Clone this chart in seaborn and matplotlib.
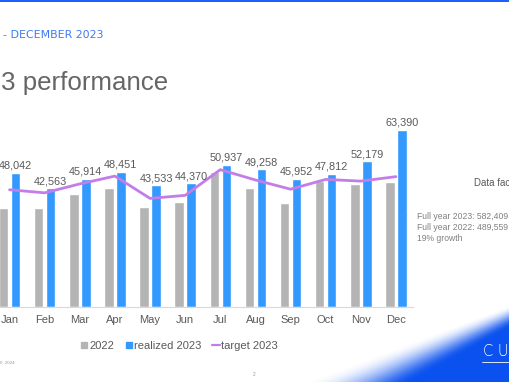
import matplotlib
matplotlib.use("Agg")
import matplotlib.pyplot as plt
from matplotlib.lines import Line2D
from matplotlib.patches import Rectangle
import seaborn as sns
import pandas as pd
import numpy as np

months = ['Jan', 'Feb', 'Mar', 'Apr', 'May', 'Jun', 'Jul', 'Aug', 'Sep', 'Oct', 'Nov', 'Dec']
sales_2022 = [35600, 35600, 40600, 42700, 35800, 37600, 48200, 42600, 37200, 45100, 44200, 44800]
realized_2023 = [48042, 42563, 45914, 48451, 43533, 44370, 50937, 49258, 45952, 47812, 52179, 63390]
target_2023 = [42000, 40900, 44100, 46900, 38900, 40000, 49200, 45500, 42200, 45700, 45100, 46700]
facts = ['Full year 2023: 582,409', 'Full year 2022: 489,559', '19% growth']

GRAY = '#B4B4B4'
BLUE = '#3399FF'
PURPLE = '#C47DE8'
TXT = '#595959'

sns.set_style('white')
plt.rcParams['font.family'] = ['Liberation Sans', 'DejaVu Sans']

W, H = 510, 382
fig = plt.figure(figsize=(W / 100, H / 100), dpi=100)

# background decoration: top bar and blue swoosh bottom right
bg = fig.add_axes([0, 0, 1, 1], zorder=-1)
bg.set_xlim(0, W)
bg.set_ylim(H, 0)
bg.axis('off')
xx, yy = np.meshgrid(np.arange(W) + 0.5, np.arange(H) + 0.5)
d = (xx - 372) * 0.425 + (yy - 382) * 0.905
w = 20 + (W - xx) * 0.16
a = np.clip((d + w * 0.55) / w, 0, 1)
a = a * a * (3 - 2 * a)
img = np.zeros((H, W, 4))
img[..., 0] = 0.04
img[..., 1] = 0.32
img[..., 2] = 0.94
img[..., 3] = a
bg.imshow(img, extent=(0, W, H, 0), interpolation='bilinear')
bg.add_patch(Rectangle((0, 0), W, 2.3, color='#1F5FFF', lw=0))
bg.plot([482, 510], [362, 362], color='white', lw=0.6)

df = pd.DataFrame({
    'month': months * 2,
    'value': sales_2022 + realized_2023,
    'series': ['2022'] * 12 + ['realized 2023'] * 12,
})

ax = fig.add_axes([-8 / W, 75 / H, 421.5 / W, 195.4 / H])
ax.set_facecolor('none')
sns.barplot(data=df, x='month', y='value', hue='series', palette=[GRAY, BLUE],
            width=0.68, gap=0.2, saturation=1, legend=False, ax=ax)
sns.lineplot(x=np.arange(12), y=target_2023, color=PURPLE, lw=2, ax=ax)

ax.bar_label(ax.containers[1], labels=[f'{v:,}' for v in realized_2023],
             padding=1.5, fontsize=7.8, color=TXT)

ax.set_xlim(-0.5, 11.5)
ax.set_ylim(0, 70000)
ax.set_xlabel('')
ax.set_ylabel('')
ax.set_yticks([])
ax.tick_params(axis='x', length=0, pad=5.5, labelsize=8, labelcolor=TXT)
for s in ['top', 'right', 'left']:
    ax.spines[s].set_visible(False)
ax.spines['bottom'].set_color('#D9D9D9')
ax.spines['bottom'].set_linewidth(0.8)

handles = [
    Line2D([], [], marker='s', ls='none', color=GRAY, markersize=4.5),
    Line2D([], [], marker='s', ls='none', color=BLUE, markersize=4.5),
    Line2D([], [], color=PURPLE, lw=1.6),
]
fig.legend(handles, ['2022', 'realized 2023', 'target 2023'], loc='center',
           bbox_to_anchor=(179 / W, 1 - 346 / H), ncol=3, frameon=False,
           fontsize=8, labelcolor=TXT, handlelength=0.7, handletextpad=0.1,
           columnspacing=1.0)

# slide texts
fig.text(3 / W, 1 - 38.3 / H, '- DECEMBER 2023', ha='left', va='baseline',
         fontsize=7.9, color='#3D7BF0', family='DejaVu Sans')
fig.text(1 / W, 1 - 90 / H, '3 performance', ha='left', va='baseline',
         fontsize=18.6, color='#666666')
fig.text(474 / W, 1 - 186 / H, 'Data fac', ha='left', va='baseline',
         fontsize=7, color=TXT)
for i, t in enumerate(facts):
    y = 1 - (216.7 + i * 10.9) / H
    fig.text(417 / W, y, t, ha='left', va='center', fontsize=6.2, color='#808080')
    fig.text(407 / W, y, '•', ha='center', va='center', fontsize=3, color='#7FA6E8')
fig.text(15 / W, 1 - 363 / H, '0, 2024', ha='right', va='center', fontsize=3.2, color='#999999')
fig.text(254 / W, 1 - 375 / H, '2', ha='center', va='center', fontsize=3.5, color='#999999')
fig.text(496 / W, 1 - 352 / H, 'C U', ha='center', va='center', fontsize=10.5,
         color='white', family='DejaVu Sans', fontweight='light')

fig.savefig('out.png', dpi=100)
